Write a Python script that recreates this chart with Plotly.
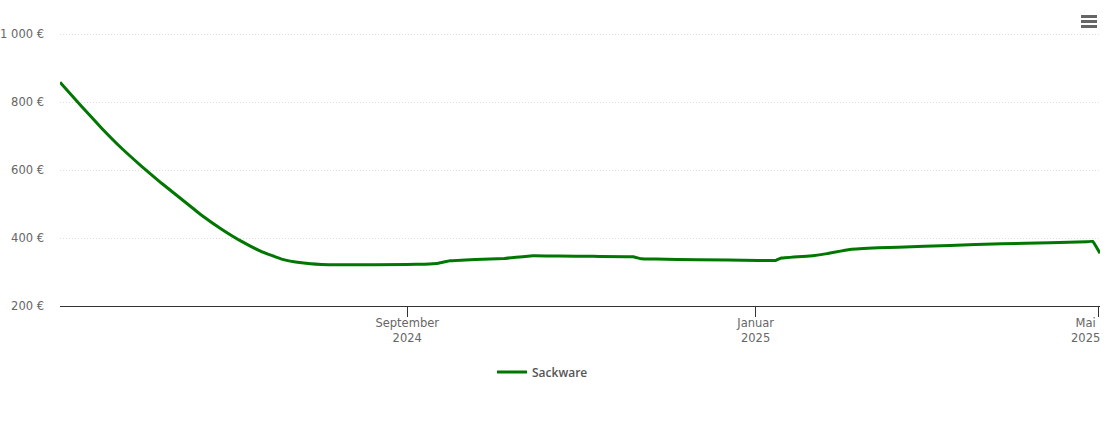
import plotly.graph_objects as go

# price history
dates = ["2024-05-02 10:00", "2024-05-10", "2024-05-17", "2024-05-24", "2024-05-31", "2024-06-07",
         "2024-06-14", "2024-06-21", "2024-06-28", "2024-07-05", "2024-07-12", "2024-07-19",
         "2024-07-26", "2024-08-02", "2024-08-09", "2024-09-01", "2024-09-07",
         "2024-09-12", "2024-09-16", "2024-09-25", "2024-10-05", "2024-10-15", "2024-10-24",
         "2024-11-05", "2024-11-19", "2024-11-22", "2024-11-27", "2024-12-12", "2025-01-02",
         "2025-01-08", "2025-01-10", "2025-01-21", "2025-01-26", "2025-02-03", "2025-02-13",
         "2025-02-20", "2025-03-10", "2025-03-28", "2025-04-14", "2025-04-27", "2025-04-29",
         "2025-05-01 14:00"]
prices = [858, 787, 723, 664, 611, 561, 514, 467, 426, 390, 360, 338, 327, 322, 321, 322,
          323, 326, 333, 337, 340, 348, 347, 346, 345, 339, 338, 336, 334, 334, 341, 348, 354,
          366, 371, 373, 378, 383, 386, 389, 390, 355]

y_ticks = [200, 400, 600, 800, 1000]
y_labels = ["200 €", "400 €", "600 €", "800 €", "1 000 €"]
x_ticks = ["2024-09-01", "2025-01-01"]
x_labels = ["September<br>2024", "Januar<br>2025"]

LEFT, RIGHT, TOP, BOTTOM = 60, 1100, 33, 306
GREY = "#666666"
FONT = "DejaVu Sans"


def px_x(x):
    return (x - LEFT) / (RIGHT - LEFT)


def px_y(y):
    return (BOTTOM - y) / (BOTTOM - TOP)


fig = go.Figure()
fig.add_trace(go.Scatter(x=dates, y=prices, mode="lines", name="Sackware",
                         line=dict(color="#007700", width=3, shape="spline", smoothing=0.3)))

# hamburger menu icon, top right
menu_bars = [(15, 18), (20, 23), (25, 28)]
shapes = [dict(type="rect", xref="paper", yref="paper", layer="above",
               x0=px_x(1081), x1=px_x(1097), y0=px_y(b), y1=px_y(t),
               fillcolor=GREY, line_width=0) for t, b in menu_bars]

fig.update_layout(
    width=1110, height=423,
    margin=dict(l=LEFT, r=1110 - RIGHT, t=TOP, b=423 - BOTTOM),
    paper_bgcolor="white", plot_bgcolor="white",
    font=dict(family=FONT, size=11.5, color=GREY),
    shapes=shapes,
    showlegend=True,
    legend=dict(orientation="h", x=px_x(542.5), xanchor="center", y=px_y(372), yanchor="middle",
                font=dict(family="Open Sans", size=12, color="#555555", weight=600)),
    annotations=[dict(x="2025-05-01", y=0, xref="x", yref="paper", yanchor="top", yshift=-8,
                      xshift=-13, text="Mai<br>2025", showarrow=False,
                      font=dict(family=FONT, size=11.5, color=GREY))],
    xaxis=dict(type="date", range=["2024-05-02 10:00", "2025-05-01 14:00"], automargin=False,
               tickmode="array", tickvals=x_ticks + ["2025-05-01"], ticktext=x_labels + [""],
               ticks="outside", ticklen=10, tickcolor="#333333", showgrid=False,
               ticklabelstandoff=-4,
               showline=True, linecolor="#333333", linewidth=1),
    yaxis=dict(range=[200, 1003], tickmode="array", tickvals=y_ticks, ticktext=y_labels,
               ticks="", ticklabelstandoff=15, zeroline=False, automargin=False,
               gridcolor="#dddddd", griddash="1px,2px", gridwidth=1),
)

fig.write_html("out.html", config=dict(displayModeBar=False),
               post_script="document.body.style.margin='0';")
